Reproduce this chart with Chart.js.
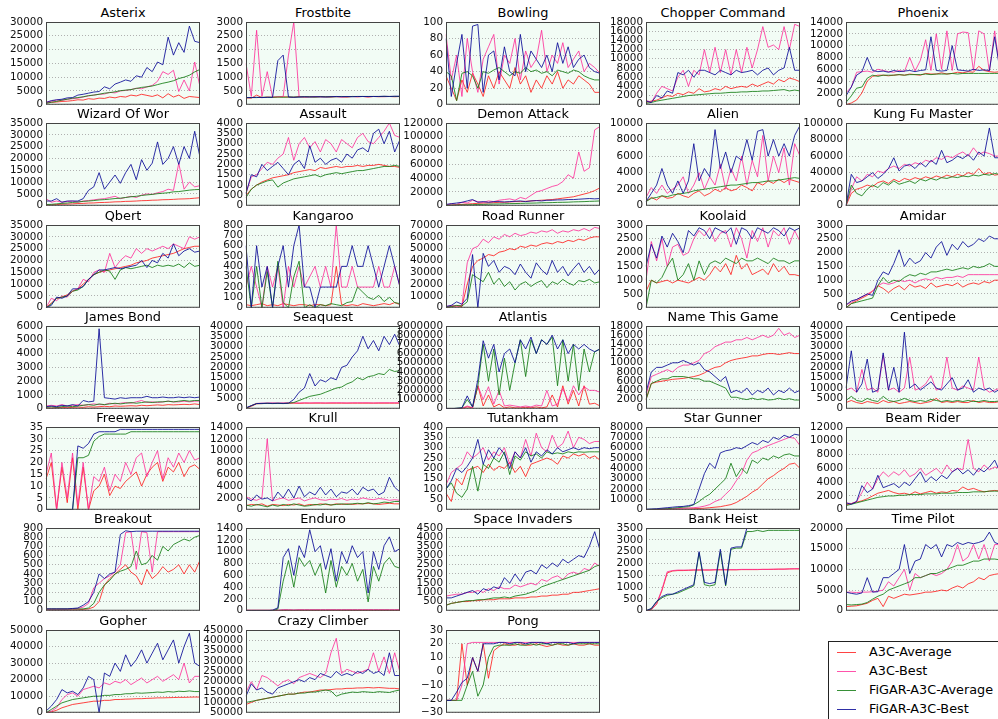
<!DOCTYPE html>
<html><head><meta charset="utf-8">
<script src="https://cdn.jsdelivr.net/npm/chart.js@4.4.1/dist/chart.umd.min.js"></script>
<style>
html,body{margin:0;padding:0;background:#fff;}
body{width:998px;height:719px;overflow:hidden;position:relative;font-family:'DejaVu Sans',sans-serif;}
canvas{position:absolute;}
.ttl{position:absolute;width:154px;text-align:center;font-size:12.9px;line-height:15px;color:#000;white-space:nowrap;}
#legend{position:absolute;left:828px;top:641px;width:185px;height:90px;border:1px solid #222;background:#fff;}
.li{position:absolute;left:8px;width:19px;height:0;border-top:1px solid;}
.lt{position:absolute;left:40px;font-size:12.8px;line-height:15px;white-space:nowrap;color:#000;}
</style></head><body>
<div id="legend"></div>
<script>
// ---------------- categories (training checkpoints) ----------------
const trainingSteps = [0,1,2,3,4,5,6,7,8,9,10,11,12,13,14,15,16,17,18,19,20,21,22,23,24,25,26,27,28,29];
const seriesNames = ['A3C-Average','A3C-Best','FiGAR-A3C-Average','FiGAR-A3C-Best'];

// ---------------- panels ----------------
const gameTitles = ['Asterix','Frostbite','Bowling','Chopper Command','Phoenix',
 'Wizard Of Wor','Assault','Demon Attack','Alien','Kung Fu Master',
 'Qbert','Kangaroo','Road Runner','Koolaid','Amidar',
 'James Bond','Seaquest','Atlantis','Name This Game','Centipede',
 'Freeway','Krull','Tutankham','Star Gunner','Beam Rider',
 'Breakout','Enduro','Space Invaders','Bank Heist','Time Pilot',
 'Gopher','Crazy Climber','Pong'];
const yTickMin  = [0,0,0,0,0, 0,0,0,0,0, 0,0,0,0,0, 0,0,0,0,0, 0,0,0,0,0, 0,0,0,0,0, 0,50000,-30];
const yTickMax  = [30000,3000,100,18000,14000, 35000,4000,120000,10000,100000, 35000,800,70000,3000,3000, 6000,40000,9000000,18000,40000, 35,14000,400,80000,12000, 900,1400,4500,3500,20000, 50000,450000,30];
const yTickStep = [5000,500,20,2000,2000, 5000,500,20000,2000,20000, 5000,100,10000,500,500, 1000,5000,1000000,2000,5000, 5,2000,50,10000,2000, 100,200,500,500,5000, 10000,50000,10];

// ---------------- series values ----------------
const asterix_avg   = [600,900,1000,1200,1300,1500,1800,1700,2200,2000,2400,2300,2800,2500,3000,2800,3500,3200,3800,3400,3000,3600,2500,4000,2800,3500,2300,3000,2800,2600];
const asterix_best  = [1000,1300,1700,1600,2000,2200,2400,2800,3200,3500,3800,3900,4500,4300,5000,5200,5500,6000,5800,6500,7000,8500,12000,11000,12500,4800,9000,5000,15500,6500];
const asterix_fAvg  = [500,900,1200,1700,2000,2400,2600,2900,3300,3500,3800,4200,4400,4700,5100,5300,5500,5900,6300,6500,6800,7300,7800,8200,8700,9500,10000,10700,11900,12800];
const asterix_fBest = [800,1500,1800,2000,2500,2600,3500,3800,4200,4600,4800,6500,5800,7500,8200,9000,8500,10500,10000,13500,12000,15500,14500,24500,18000,22500,19000,28500,23000,22500];

const frostbite_avg   = [250,240,350,260,280,270,280,290,280,270,300,280,290,280,300,290,280,300,290,280,300,290,300,280,300,290,300,300,290,300];
const frostbite_best  = [1500,300,2700,300,1200,280,290,300,1800,3000,290,280,290,300,280,290,300,290,280,290,300,290,300,290,300,300,290,300,300,300];
const frostbite_fAvg  = [260,260,260,270,270,270,280,270,280,280,280,290,290,280,290,290,290,290,300,290,300,300,300,300,300,300,300,300,300,300];
const frostbite_fBest = [260,260,270,260,270,270,1600,1800,280,270,280,290,280,290,290,280,290,300,290,300,290,300,300,300,300,300,310,300,310,310];

const bowling_avg   = [35,20,5,30,15,38,25,10,35,20,40,30,20,45,25,35,15,30,20,35,25,40,20,30,25,35,30,25,15,15];
const bowling_best  = [85,30,60,10,80,40,15,55,70,85,25,60,50,80,30,65,45,55,90,40,60,50,75,45,55,65,40,50,45,38];
const bowling_fAvg  = [40,35,5,38,40,35,20,40,38,42,45,40,35,40,38,45,40,42,38,40,35,42,40,38,42,40,35,32,30,30];
const bowling_fBest = [80,10,50,85,20,95,97,15,60,65,30,70,40,35,85,40,65,55,45,60,40,75,50,70,45,55,60,45,40,38];

const chopper_avg   = [500,800,1000,1500,2000,1800,2500,2200,2800,2500,3500,2800,3000,3500,3200,4000,3500,3800,4000,3800,4500,4000,4500,5000,4500,5500,5000,5800,5500,5000];
const chopper_best  = [1000,500,2500,4000,3500,3000,6000,7500,4000,7500,6500,12000,7000,12500,7000,12000,6500,12000,7000,12500,8000,12000,17000,12500,13000,12000,17000,12000,17500,17000];
const chopper_fAvg  = [300,500,800,1000,1200,1400,1600,1800,2000,2100,2200,2300,2400,2500,2500,2600,2700,2700,2800,2800,2900,2900,3000,3000,3100,3200,3300,3000,3200,3000];
const chopper_fBest = [800,500,2000,1500,3000,2500,7000,6500,7500,6000,7500,7500,7000,6500,7500,7000,6500,7500,7000,7200,7500,6500,7500,8000,6500,7500,8000,12500,7500,7500];

const phoenix_avg   = [0,300,800,2000,4000,4800,5000,5000,4900,5000,5100,5000,5200,5100,5000,5300,5200,5200,5400,5200,5300,5500,5400,5600,5500,6500,5800,5600,5500,5600];
const phoenix_best  = [2000,3000,5500,5600,5700,5500,6000,5800,5600,5500,5800,5600,8000,5700,7500,11000,5800,12000,6000,12500,5800,12000,12300,12200,5800,12500,12000,5600,12500,5800];
const phoenix_fAvg  = [400,1500,2800,3000,4500,5000,4800,5000,5000,5000,5100,5000,5100,5100,5100,5200,5100,5200,5200,5200,5300,5200,5300,5300,5300,5300,5300,5300,5300,5300];
const phoenix_fBest = [1500,3000,5000,5600,8000,5800,5600,5700,5500,5800,5600,5700,5800,5600,5800,5900,11500,5800,5700,5800,10000,5900,5800,5700,6000,5800,5900,5800,11500,5800];

const wizard_avg   = [300,350,500,650,700,800,950,1000,1150,1200,1350,1400,1500,1650,1700,1850,1900,2000,2150,2200,2350,2400,2550,2600,2700,2850,2900,3000,3200,3400];
const wizard_best  = [3000,1500,2000,1500,1800,2000,1500,2000,2200,2500,2800,3000,3500,4000,3000,3500,4000,3500,4500,5000,4800,5500,6000,7000,6500,18000,7000,10000,8000,8500];
const wizard_fAvg  = [500,600,800,1000,1150,1400,1600,1850,2000,2200,2450,2600,2800,3050,3200,3500,3800,4000,4350,4600,4800,5100,5300,5500,5900,6000,6300,6600,6800,6900];
const wizard_fBest = [2000,2000,3000,1500,2000,2000,2000,3000,6500,8000,14000,7000,10000,13000,9500,14000,17500,11000,19500,15000,18000,27000,17500,20000,25000,17500,25000,20000,31500,20500];

const assault_avg   = [500,800,1000,1150,1250,1350,1400,1450,1500,1600,1650,1700,1750,1700,1850,1800,1850,1900,1850,1900,1900,1950,1900,1950,1950,2000,1950,1900,1900,1850];
const assault_best  = [600,1400,1500,1800,2100,2000,2300,2500,3300,2200,3000,3300,2800,3100,2600,3200,3000,2600,3200,3000,2800,3300,3500,3100,3000,3300,3600,4000,3400,3300];
const assault_fAvg  = [400,800,1000,1100,1200,1250,900,1100,1200,1300,1350,1400,1450,1500,1400,1500,1550,1600,1550,1600,1650,1700,1700,1750,1800,1850,1900,1900,1950,1900];
const assault_fBest = [600,1500,1400,2000,1700,1900,2100,1800,1500,2000,2200,1800,2900,2100,2300,2000,2200,2300,2100,2500,2300,2700,2800,2600,3500,3700,3000,3600,2600,3200];

const demon_avg   = [500,1000,1500,2000,2500,3000,3500,4000,4000,4500,5000,5000,5500,6000,6000,6500,7000,7500,8000,8500,9000,10000,11000,12000,13000,15000,17000,19000,22000,26000];
const demon_best  = [1000,3000,2000,5000,4000,8000,6000,5000,7000,6000,8000,9000,10000,8000,12000,10000,15000,20000,22000,25000,28000,30000,35000,45000,40000,78000,50000,55000,110000,115000];
const demon_fAvg  = [500,800,1000,1300,1400,1600,1900,2000,2200,2500,2600,2800,3100,3200,3400,3700,3800,4000,4300,4400,4600,4900,5000,5200,5600,5800,6000,6400,6600,7000];
const demon_fBest = [2000,3000,4000,5000,7000,9000,5000,6000,5000,6000,6000,5500,6000,6500,7000,6000,7000,7500,7000,8000,8000,8500,8500,9000,9000,9500,10000,10500,10000,10500];

const alien_avg   = [500,1000,700,1200,900,1000,1500,1200,1000,1500,1800,1200,1500,2000,1700,2200,1800,2000,2500,2200,1800,2800,2500,3000,2700,3200,2800,3200,3000,2800];
const alien_best  = [1000,2200,1500,2500,1500,2000,2500,3500,1500,2500,4000,2000,3500,2500,5000,2000,4500,3000,6000,2500,5500,3500,8500,3000,6000,4000,7000,2500,7500,6000];
const alien_fAvg  = [500,900,1000,1200,1100,1300,1400,1500,1600,1800,1900,2000,2100,2200,2300,2400,2500,2500,2600,2700,2800,2800,2900,3000,3000,3100,3200,3300,3400,3300];
const alien_fBest = [500,1500,2500,4500,2500,1500,3000,1500,3000,7500,3000,4500,3500,9200,4500,6500,4000,6000,5500,8000,5500,9000,9200,6000,8000,6000,7500,6000,8500,9700];

const kungfu_avg   = [0,15000,20000,22000,25000,23000,28000,30000,27000,32000,29000,33000,31000,34000,32000,35000,33000,36000,34000,37000,35000,38000,36000,40000,38000,45000,38000,40000,37000,38000];
const kungfu_best  = [0,20000,35000,30000,38000,35000,42000,40000,45000,48000,45000,50000,48000,52000,50000,55000,53000,58000,56000,60000,58000,62000,65000,60000,70000,62000,65000,63000,60000,60000];
const kungfu_fAvg  = [0,25000,15000,12000,20000,25000,22000,28000,25000,30000,26000,28000,30000,27000,32000,30000,33000,31000,34000,33000,35000,34000,36000,35000,37000,36000,38000,37000,39000,38000];
const kungfu_fBest = [0,38000,28000,30000,35000,40000,33000,38000,45000,58000,42000,48000,50000,45000,52000,47000,55000,50000,67000,52000,55000,60000,57000,62000,55000,65000,60000,94000,58000,58000];

const qbert_avg   = [0,2000,4000,4500,5500,7000,8000,10000,12000,14000,15000,15500,16000,16500,17000,17500,18000,19000,19500,20000,21000,21500,22000,22500,23000,24000,25000,25500,26000,26000];
const qbert_best  = [0,4000,3000,5000,4500,7000,8000,12000,11000,15000,16000,15000,23000,17000,20000,22000,21000,25000,23000,25000,24000,25000,26000,25000,27000,26000,25000,30000,29000,30000];
const qbert_fAvg  = [0,1500,4000,4500,5000,7000,7500,9000,12000,14000,15000,16000,15500,12000,16000,17000,16500,17000,17500,18000,17000,18000,17500,18000,17500,18500,17000,19000,17500,18000];
const qbert_fBest = [0,1000,4500,4000,5000,8000,8000,9000,12000,14000,16000,16000,16500,17000,16500,17000,17500,18000,20000,17000,20000,19000,23000,21000,27000,22000,24000,25000,23500,24000];

const kangaroo_avg   = [30,20,30,40,20,30,20,40,30,20,30,30,20,30,30,20,30,400,30,20,30,20,40,30,20,30,40,30,50,30];
const kangaroo_best  = [200,400,200,0,400,200,400,0,400,200,400,200,300,400,200,400,200,800,200,200,400,200,200,200,200,400,200,200,400,200];
const kangaroo_fAvg  = [400,0,400,0,350,0,450,50,0,300,450,0,30,0,30,20,40,30,20,50,60,200,150,100,80,120,60,100,50,40];
const kangaroo_fBest = [600,0,600,200,400,0,400,600,200,600,800,200,200,0,200,200,200,200,400,400,600,400,400,600,400,200,400,600,400,200];

const road_avg   = [0,1000,1500,1000,20000,35000,40000,42000,45000,44000,47000,48000,50000,49000,52000,51000,53000,52000,54000,55000,54000,56000,55000,57000,56000,58000,57000,59000,60000,60000];
const road_best  = [1000,2000,1500,2000,38000,50000,52000,58000,55000,60000,58000,62000,60000,63000,61000,62000,64000,63000,65000,64000,66000,63000,65000,64000,66000,65000,67000,65000,68000,67000];
const road_fAvg  = [500,1000,2000,1500,5000,28000,25000,22000,30000,20000,25000,18000,22000,15000,20000,22000,18000,21000,23000,17000,22000,20000,24000,21000,19000,23000,22000,24000,21000,22000];
const road_fBest = [1000,2000,5000,3000,8000,45000,0,46000,35000,40000,30000,35000,33000,28000,37000,30000,25000,38000,32000,28000,40000,30000,35000,27000,33000,38000,30000,35000,28000,33000];

const koolaid_avg   = [600,1000,900,950,1000,900,1000,950,900,1000,1100,1000,1200,1500,1300,1600,1200,1900,1400,1600,1200,1300,1400,1200,1600,1300,1500,1200,1200,1150];
const koolaid_best  = [1000,2400,1700,2500,1500,2200,2300,1900,2000,2500,2800,2600,2900,2400,2700,2800,2200,2900,2500,1800,2800,2400,2900,2200,2800,2600,2900,2300,2800,2400];
const koolaid_fAvg  = [0,1000,900,1100,1500,1800,1000,1200,1600,1000,1700,1200,1600,1700,1600,1800,1700,1600,1800,1700,1700,1800,1700,1600,1800,1700,1700,1600,1700,1700];
const koolaid_fBest = [1500,2300,1800,2600,2200,2700,2400,2000,2800,2600,2900,2800,2500,2900,2800,2700,2900,2300,2900,2800,2500,2900,2800,2700,2900,2800,2600,2900,2800,2900];

const amidar_avg   = [0,150,250,350,450,600,800,700,550,700,800,650,850,750,800,700,900,750,800,850,800,900,750,850,900,850,950,900,1000,1000];
const amidar_best  = [100,200,300,400,500,600,800,900,850,900,1000,950,1000,900,1000,1050,1000,1100,1050,1100,1100,1150,1100,1200,1200,1200,1200,1200,1200,1200];
const amidar_fAvg  = [0,150,200,250,300,350,800,1100,900,1000,950,1100,1200,1150,1250,1200,1300,1300,1350,1400,1350,1400,1450,1400,1500,1450,1500,1600,1500,1500];
const amidar_fBest = [100,250,300,400,500,450,1000,1300,1200,1600,2100,1500,1800,1600,1700,2000,1800,2200,2400,1900,2300,2100,2400,2200,2300,2500,2400,2600,2500,2500];

const bond_avg   = [50,50,80,100,80,100,120,100,150,120,150,180,150,200,180,200,220,200,250,220,250,280,250,300,280,300,320,300,350,300];
const bond_best  = [200,250,200,300,200,250,300,250,300,350,300,300,400,350,400,450,400,500,600,450,500,450,500,550,500,500,550,500,550,550];
const bond_fAvg  = [100,150,100,150,200,150,200,250,300,250,350,300,350,400,350,400,450,400,450,500,450,500,500,550,500,550,600,550,600,600];
const bond_fBest = [150,200,150,250,200,300,200,600,500,550,5800,800,750,700,800,750,800,800,800,900,800,800,850,800,800,850,800,850,800,850];

const seaquest_avg   = [200,1200,2400,2500,2600,2600,2600,2600,2700,2700,2600,2700,2700,2700,2700,2700,2700,2700,2700,2700,2700,2700,2700,2700,2700,2700,2700,2700,2700,2700];
const seaquest_best  = [300,1500,2600,2700,2700,2800,2700,2800,2800,2900,2800,2900,2800,2900,2900,2800,2900,2900,2900,2800,2900,2900,2900,2900,2800,2900,2900,2900,2900,2900];
const seaquest_fAvg  = [200,1500,2500,2500,2600,2500,2600,2500,2700,3000,4000,5000,6000,6500,7000,8000,9000,10000,10500,12000,13000,15000,14000,15500,16000,17000,16500,19000,18000,18500];
const seaquest_fBest = [500,1500,2500,2600,2700,2600,2700,2600,2700,4500,8000,10000,17000,11000,14000,13000,15000,14000,20000,21000,25000,28000,35000,29000,33000,28000,35000,31000,36000,30000];

const atlantis_avg   = [0,0,0,50000,200000,100000,2500000,300000,1500000,200000,500000,100000,200000,100000,100000,150000,100000,200000,100000,200000,1500000,200000,2500000,500000,2000000,300000,2500000,500000,600000,300000];
const atlantis_best  = [0,0,0,50000,300000,100000,2500000,1000000,2400000,500000,2000000,300000,400000,300000,200000,300000,200000,400000,300000,2000000,300000,500000,2200000,800000,2500000,1500000,2400000,2000000,2000000,1800000];
const atlantis_fAvg  = [0,0,50000,100000,1000000,200000,2500000,7000000,3000000,6500000,1500000,5500000,2000000,5000000,7500000,3500000,7500000,6000000,7500000,7000000,7800000,2500000,7500000,3000000,7000000,2000000,6500000,4000000,6200000,6500000];
const atlantis_fBest = [0,0,50000,100000,1400000,200000,3200000,7400000,5500000,7000000,4000000,6000000,6500000,5000000,7500000,6500000,7800000,6000000,7500000,7000000,8000000,6500000,7500000,6000000,7000000,6500000,7000000,6500000,6200000,6500000];

const namegame_avg   = [2000,5500,5800,6000,6200,6400,6500,6600,6800,7000,7300,7800,8500,9000,9200,10000,10500,10800,11000,11200,11500,11500,11800,12000,12000,11800,12000,12200,12000,12000];
const namegame_best  = [3000,7000,7500,8000,8500,8000,9000,9500,9500,10000,10500,12000,12500,13500,14000,14500,14500,15000,15000,15500,15000,15500,16000,15500,16000,17500,16000,16500,15500,16000];
const namegame_fAvg  = [2000,5500,6000,6500,6500,7000,7000,7000,6800,6500,6500,6000,6000,5500,5000,4500,2500,2500,2200,2000,2300,2000,2200,1900,2000,2300,2000,2200,1900,1900];
const namegame_fBest = [3500,8000,9000,9000,9500,10000,10000,10500,10000,9500,10000,8500,8000,7000,6000,7000,3500,4000,3500,4500,3000,4000,3500,4500,3000,4000,3500,4500,3500,4000];

const centipede_avg   = [3000,4000,3000,2500,3500,3000,2500,4000,3000,3500,2500,3000,3500,3000,2500,3000,3500,5000,3000,3500,3000,3500,3000,3000,4000,3000,3500,3000,3000,3500];
const centipede_best  = [9000,10000,8000,19000,9000,10000,8000,26000,9000,10000,8000,10000,25000,9000,10000,12000,16000,9000,10000,25000,10000,9000,11000,10000,9000,25000,10000,8000,9000,10000];
const centipede_fAvg  = [4000,6000,4000,3500,5000,4000,3500,6000,4000,3500,4000,5000,4000,3500,4000,3500,4500,4000,3500,4000,3500,4000,3500,4000,3500,3500,4000,3500,3500,3800];
const centipede_fBest = [10000,28000,8000,12000,24000,8000,9000,27000,9000,20000,8000,37000,10000,12000,9000,11000,13000,10000,9000,12000,15000,9000,10000,14000,8000,10000,9000,10000,8000,9500];

const freeway_avg   = [13,20,0,18,3,22,0,18,0,8,10,15,6,10,9,12,14,16,10,15,18,20,12,18,16,20,14,18,19,17];
const freeway_best  = [15,24,0,20,5,24,2,20,0,14,12,18,8,15,12,20,15,22,24,14,20,25,13,22,18,24,20,25,21,22];
const freeway_fAvg  = [0,0,0,0,0,0,22,22,23,29,31,32,32,32,32,32,33,33,33,33,33,33,33,33,33,33,33,33,33,33];
const freeway_fBest = [0,0,0,0,0,0,27,26,28,32,33,33,33,33,34,34,34,34,34,34,34,34,34,34,34,34,34,34,34,34];

const krull_avg   = [700,900,800,1000,600,900,800,700,900,800,1000,700,900,800,1000,900,800,1000,900,1000,900,1000,1000,1100,1000,900,1000,1100,1000,1000];
const krull_best  = [2200,1800,1600,2000,12000,1500,1800,2000,1600,1800,2000,1500,1800,2000,1700,1600,1800,1700,1900,1600,1800,1700,2000,1800,1700,1900,1800,1600,1700,1600];
const krull_fAvg  = [800,600,900,700,500,800,600,900,700,1000,800,600,700,900,800,1000,800,900,1000,900,1000,1100,1000,1200,1000,1100,1300,1200,1400,1400];
const krull_fBest = [2000,1500,2500,1800,2000,1500,3000,2000,3500,2000,4000,2200,3000,2500,3800,2500,3500,2200,3000,2800,3500,2500,3800,3200,3500,2500,3000,5500,3800,3000];

const tut_avg   = [80,40,150,120,190,200,210,180,220,190,210,200,230,180,210,160,220,230,240,250,240,220,260,250,270,260,270,250,260,240];
const tut_best  = [120,180,200,220,280,250,270,300,240,280,260,300,220,280,250,340,260,370,300,280,360,300,320,380,300,350,340,320,330,330];
const tut_fAvg  = [100,130,80,60,100,210,90,220,200,250,230,280,170,260,240,280,260,270,250,280,270,275,270,280,275,280,278,280,280,280];
const tut_fBest = [100,140,200,180,210,250,340,220,290,250,300,270,200,280,250,300,230,280,260,290,270,300,280,290,300,290,300,295,300,300];

const stargun_avg   = [0,100,200,300,400,500,600,700,800,1000,1200,1500,2000,2500,3000,4000,5000,7000,10000,13000,17000,20000,25000,30000,33000,37000,40000,44000,45000,40000];
const stargun_best  = [0,200,400,600,800,1000,1200,1500,1800,2000,2500,3500,5000,8000,10000,15000,20000,28000,35000,48000,55000,57000,60000,62000,64000,66000,68000,70000,69000,62000];
const stargun_fAvg  = [0,300,500,800,1000,1500,2000,2500,3000,5000,8000,12000,15000,20000,25000,30000,45000,32000,40000,35000,48000,45000,50000,48000,52000,50000,53000,54000,52000,52000];
const stargun_fBest = [500,800,1000,1500,2000,2500,3000,3200,4000,5000,20000,35000,45000,40000,55000,57000,58000,60000,59000,62000,65000,63000,67000,65000,70000,68000,72000,70000,73000,72000];

const beam_avg   = [700,900,1100,1300,1600,2000,2400,2600,2800,2500,2300,2400,2200,2600,2300,2500,2700,2400,2600,2500,2800,2700,3300,2900,3100,2800,2600,2700,2800,2700];
const beam_best  = [1000,900,1200,2500,4000,3000,4500,5500,4800,5500,5000,5800,4800,5200,6000,5000,5500,6000,5200,6500,5500,6000,5800,10200,6000,5500,6500,5800,6200,6000];
const beam_fAvg  = [600,800,1000,1200,1400,1600,1800,1900,2000,2000,2100,2100,2200,2200,2200,2300,2300,2300,2400,2400,2400,2500,2500,2500,2600,2600,2600,2700,2700,2700];
const beam_fBest = [1000,800,1200,3500,2500,3000,5000,3200,3500,3800,3200,4000,3500,4500,5500,4000,4800,4200,5000,4500,5500,6000,5200,5800,5000,6000,5500,6200,7200,5500];

const breakout_avg   = [10,10,10,10,10,10,10,15,20,40,100,280,350,400,450,500,420,380,280,450,350,400,480,420,450,500,400,500,420,550];
const breakout_best  = [20,20,20,20,20,20,25,40,80,250,300,350,380,420,500,850,860,450,860,850,420,860,860,860,860,860,860,860,860,860];
const breakout_fAvg  = [20,20,20,20,20,20,20,20,30,80,200,280,330,400,430,450,480,650,500,520,600,550,700,650,720,750,780,760,800,820];
const breakout_fBest = [20,20,20,20,20,25,30,60,100,200,400,350,400,420,830,870,860,865,865,865,865,865,865,865,865,865,865,865,865,865];

const enduro_avg   = [5,5,5,5,5,5,5,5,5,5,5,5,5,5,5,5,5,5,5,5,5,5,5,5,5,5,5,5,5,5];
const enduro_best  = [10,10,10,10,10,10,10,20,20,15,20,20,20,20,20,20,20,20,20,20,20,20,20,20,20,20,20,20,20,20];
const enduro_fAvg  = [0,0,0,0,0,0,30,500,850,400,900,750,850,600,800,300,850,400,750,600,800,500,700,150,750,500,800,900,750,720];
const enduro_fBest = [0,0,0,0,0,10,50,900,1050,600,1100,900,1370,1000,1100,700,1050,500,1000,800,1100,900,1000,300,1000,700,1100,1250,1000,1050];

const invaders_avg   = [300,400,450,500,500,550,550,600,600,600,650,650,650,700,700,700,750,750,800,800,850,850,900,900,1000,1000,1050,1100,1150,1200];
const invaders_best  = [800,850,900,900,1000,1000,1100,1000,1200,1100,1300,1200,1200,1400,1300,1400,1500,1400,1700,1600,1800,1900,1700,2000,2100,2000,2300,2200,2600,2400];
const invaders_fAvg  = [300,400,450,500,550,550,600,600,650,700,700,750,700,800,850,900,1000,1100,1300,1400,1500,1600,1700,1800,1900,2000,2100,2200,2400,2500];
const invaders_fBest = [700,700,800,900,1000,1100,900,1200,1100,1300,1200,1800,1500,2000,1600,2100,2200,2000,2500,2300,2600,2400,2800,2600,2800,3000,2900,3500,4300,3300];

const bank_avg   = [0,40,280,850,1600,1680,1700,1700,1710,1720,1720,1720,1720,1730,1730,1730,1730,1730,1740,1740,1740,1740,1750,1750,1750,1760,1760,1770,1770,1770];
const bank_best  = [0,50,300,900,1650,1700,1720,1720,1720,1730,1730,1730,1730,1740,1740,1740,1740,1740,1750,1750,1750,1750,1750,1750,1760,1760,1760,1770,1780,1780];
const bank_fAvg  = [0,80,380,550,650,700,750,850,950,1050,2450,1100,1050,1100,2500,1050,2600,2650,2650,3350,3350,3400,3350,3400,3400,3400,3400,3400,3400,3400];
const bank_fBest = [0,100,400,600,700,700,800,900,1000,1100,2500,1200,1150,1200,2600,1100,2650,2700,2700,3500,3550,3520,3550,3530,3550,3540,3550,3550,3550,3550];

const timepilot_avg   = [1000,1100,1200,1500,1800,2500,3000,1000,3500,3000,3500,4000,3800,4000,4200,4500,4500,4700,5000,4800,5500,6000,5500,6500,7000,8000,7500,8500,8800,9000];
const timepilot_best  = [4500,4500,4400,4500,4500,4600,4700,5000,7000,6000,8000,10000,5000,9000,8000,8500,9000,8500,9000,10000,12000,16000,12000,13000,16000,12500,16000,12000,16000,16000];
const timepilot_fAvg  = [1500,1400,1500,1600,2000,2800,3500,4000,5000,5500,6000,6500,7000,8000,8000,8500,9000,9000,9500,10000,10500,11000,11000,11500,12000,12000,12500,12500,12500,12300];
const timepilot_fBest = [4500,4200,4000,4300,8000,4500,4600,8000,8000,9000,10000,16000,9000,12000,12500,16000,15000,16000,13000,16000,15500,16500,16000,16500,16200,16500,17000,19000,16500,16000];

const gopher_avg   = [0,500,1500,3000,4000,5000,5500,6000,6500,7000,7000,7500,7500,8000,8000,8200,8300,8500,8500,8700,8800,9000,9000,9100,9200,9300,9300,9400,9500,9500];
const gopher_best  = [0,1000,3000,8000,11000,12000,10000,14000,15000,16000,15000,18000,17000,19000,18000,20000,17000,19000,21000,18000,20000,22000,19000,21000,23000,20000,30000,18000,22000,22000];
const gopher_fAvg  = [0,2000,4000,6000,7000,8000,8500,9000,9500,10000,10000,10500,10500,11000,11000,11500,11500,12000,11800,12000,12200,12500,12300,12800,12500,13000,12800,13200,12800,12800];
const gopher_fBest = [1000,4000,8000,14000,12000,13000,11000,15000,22000,20000,0,24000,22000,30000,25000,35000,28000,32000,38000,30000,36000,42000,32000,38000,44000,30000,40000,48000,30000,28000];

const climber_avg   = [90000,100000,110000,115000,120000,125000,130000,135000,140000,140000,145000,150000,150000,155000,160000,160000,162000,165000,165000,168000,168000,170000,170000,172000,170000,172000,170000,168000,168000,165000];
const climber_best  = [150000,200000,160000,230000,220000,200000,180000,200000,210000,190000,220000,230000,240000,230000,220000,240000,340000,410000,240000,260000,250000,240000,250000,260000,340000,250000,320000,240000,340000,245000];
const climber_fAvg  = [100000,105000,110000,115000,120000,125000,130000,135000,140000,140000,145000,145000,150000,150000,155000,160000,155000,130000,140000,145000,150000,148000,152000,150000,148000,152000,150000,148000,155000,160000];
const climber_fBest = [130000,190000,160000,170000,150000,140000,170000,180000,190000,200000,210000,200000,220000,210000,240000,230000,220000,250000,230000,240000,230000,250000,240000,260000,240000,250000,230000,340000,230000,230000];

const pong_avg   = [-21,-21,-21,20,-10,10,0,20,-5,15,18,20,19,19,20,19,19,20,19,18,19,20,19,19,20,19,19,20,19,19];
const pong_best  = [-21,-21,-21,-10,20,21,21,21,21,21,21,21,21,21,21,21,21,21,21,21,21,21,21,21,21,21,21,21,21,21];
const pong_fAvg  = [-21,-21,-21,-21,-10,0,-18,-10,10,18,19,19,19,20,19,19,20,19,20,20,19,20,20,19,20,20,20,20,20,20];
const pong_fBest = [-21,-21,-15,-8,-5,10,0,20,20,20,21,21,20,21,21,20,21,21,21,20,21,21,21,21,20,21,21,21,21,21];

// table assembled from the arrays above (panel order = gameTitles)
const panelSeries = [
 [asterix_avg,asterix_best,asterix_fAvg,asterix_fBest],
 [frostbite_avg,frostbite_best,frostbite_fAvg,frostbite_fBest],
 [bowling_avg,bowling_best,bowling_fAvg,bowling_fBest],
 [chopper_avg,chopper_best,chopper_fAvg,chopper_fBest],
 [phoenix_avg,phoenix_best,phoenix_fAvg,phoenix_fBest],
 [wizard_avg,wizard_best,wizard_fAvg,wizard_fBest],
 [assault_avg,assault_best,assault_fAvg,assault_fBest],
 [demon_avg,demon_best,demon_fAvg,demon_fBest],
 [alien_avg,alien_best,alien_fAvg,alien_fBest],
 [kungfu_avg,kungfu_best,kungfu_fAvg,kungfu_fBest],
 [qbert_avg,qbert_best,qbert_fAvg,qbert_fBest],
 [kangaroo_avg,kangaroo_best,kangaroo_fAvg,kangaroo_fBest],
 [road_avg,road_best,road_fAvg,road_fBest],
 [koolaid_avg,koolaid_best,koolaid_fAvg,koolaid_fBest],
 [amidar_avg,amidar_best,amidar_fAvg,amidar_fBest],
 [bond_avg,bond_best,bond_fAvg,bond_fBest],
 [seaquest_avg,seaquest_best,seaquest_fAvg,seaquest_fBest],
 [atlantis_avg,atlantis_best,atlantis_fAvg,atlantis_fBest],
 [namegame_avg,namegame_best,namegame_fAvg,namegame_fBest],
 [centipede_avg,centipede_best,centipede_fAvg,centipede_fBest],
 [freeway_avg,freeway_best,freeway_fAvg,freeway_fBest],
 [krull_avg,krull_best,krull_fAvg,krull_fBest],
 [tut_avg,tut_best,tut_fAvg,tut_fBest],
 [stargun_avg,stargun_best,stargun_fAvg,stargun_fBest],
 [beam_avg,beam_best,beam_fAvg,beam_fBest],
 [breakout_avg,breakout_best,breakout_fAvg,breakout_fBest],
 [enduro_avg,enduro_best,enduro_fAvg,enduro_fBest],
 [invaders_avg,invaders_best,invaders_fAvg,invaders_fBest],
 [bank_avg,bank_best,bank_fAvg,bank_fBest],
 [timepilot_avg,timepilot_best,timepilot_fAvg,timepilot_fBest],
 [gopher_avg,gopher_best,gopher_fAvg,gopher_fBest],
 [climber_avg,climber_best,climber_fAvg,climber_fBest],
 [pong_avg,pong_best,pong_fAvg,pong_fBest]
];

// ---------------- styling / layout ----------------
const LINE_COLORS = ['rgba(255,20,20,0.8)','rgba(255,40,150,0.8)','rgba(20,125,20,0.85)','rgba(10,10,150,0.85)'];
const PLOT_BG = '#f2fcf5';
const FRAME = '#444';
const PLOT_W = 154, PLOT_H = 84, AXIS_W = 62, PAD_T = 10, PAD_B = 8;

const framePlugin = {
  id: 'frame',
  beforeDraw(chart) {
    const a = chart.chartArea, ctx = chart.ctx;
    ctx.save(); ctx.fillStyle = PLOT_BG;
    ctx.fillRect(a.left, a.top, a.right - a.left, a.bottom - a.top);
    ctx.restore();
  },
  afterDraw(chart) {
    const a = chart.chartArea, ctx = chart.ctx;
    ctx.save(); ctx.strokeStyle = FRAME; ctx.lineWidth = 1;
    ctx.strokeRect(a.left + 0.5, a.top + 0.5, a.right - a.left - 1, a.bottom - a.top - 1);
    ctx.restore();
  }
};

function fmt(v) { return v < 0 ? '\u2212' + Math.abs(v) : String(v); }

gameTitles.forEach((title, k) => {
  const r = Math.floor(k / 5), c = k % 5;
  const plotLeft = 46 + 200 * c;
  const plotTop = Math.round(22 + 101.25 * r);

  const t = document.createElement('div');
  t.className = 'ttl'; t.textContent = title;
  t.style.left = plotLeft + 'px'; t.style.top = (plotTop - 17) + 'px';
  document.body.appendChild(t);

  const cv = document.createElement('canvas');
  cv.width = AXIS_W + PLOT_W; cv.height = PAD_T + PLOT_H + PAD_B;
  cv.style.left = (plotLeft - AXIS_W) + 'px'; cv.style.top = (plotTop - PAD_T) + 'px';
  document.body.appendChild(cv);

  const s = panelSeries[k];
  const ticks = [];
  for (let v = yTickMin[k]; v <= yTickMax[k] + 1e-9; v += yTickStep[k]) ticks.push(v);

  const ds = [3, 2, 1, 0].map(i => ({
    label: seriesNames[i], data: s[i], borderColor: LINE_COLORS[i], backgroundColor: LINE_COLORS[i],
    borderWidth: 1, pointRadius: 0, tension: 0, fill: false
  }));

  new Chart(cv, {
    type: 'line',
    data: { labels: trainingSteps, datasets: ds },
    options: {
      responsive: false, animation: false, devicePixelRatio: 1, events: [],
      layout: { padding: { left: 0, right: 0, top: PAD_T, bottom: PAD_B } },
      plugins: { legend: { display: false }, tooltip: { enabled: false }, title: { display: false } },
      scales: {
        x: { display: false },
        y: {
          min: yTickMin[k], max: yTickMax[k],
          afterFit(sc) { sc.width = AXIS_W; },
          afterBuildTicks(sc) { sc.ticks = ticks.map(v => ({ value: v })); },
          ticks: { autoSkip: false, padding: 3, color: '#111', font: { family: 'DejaVu Sans', size: 10.4 }, callback: v => fmt(v) },
          grid: { color: '#b0b0b0', lineWidth: 1, drawTicks: false },
          border: { display: false, dash: [1, 2] }
        }
      }
    },
    plugins: [framePlugin]
  });
});

// ---------------- legend ----------------
const lg = document.getElementById('legend');
seriesNames.forEach((name, i) => {
  const y = 10 + 19 * i;
  const ln = document.createElement('div'); ln.className = 'li';
  ln.style.top = y + 'px'; ln.style.borderTopColor = LINE_COLORS[i];
  lg.appendChild(ln);
  const tx = document.createElement('div'); tx.className = 'lt';
  tx.style.top = (y - 8) + 'px'; tx.textContent = name;
  lg.appendChild(tx);
});
</script>
</body></html>
